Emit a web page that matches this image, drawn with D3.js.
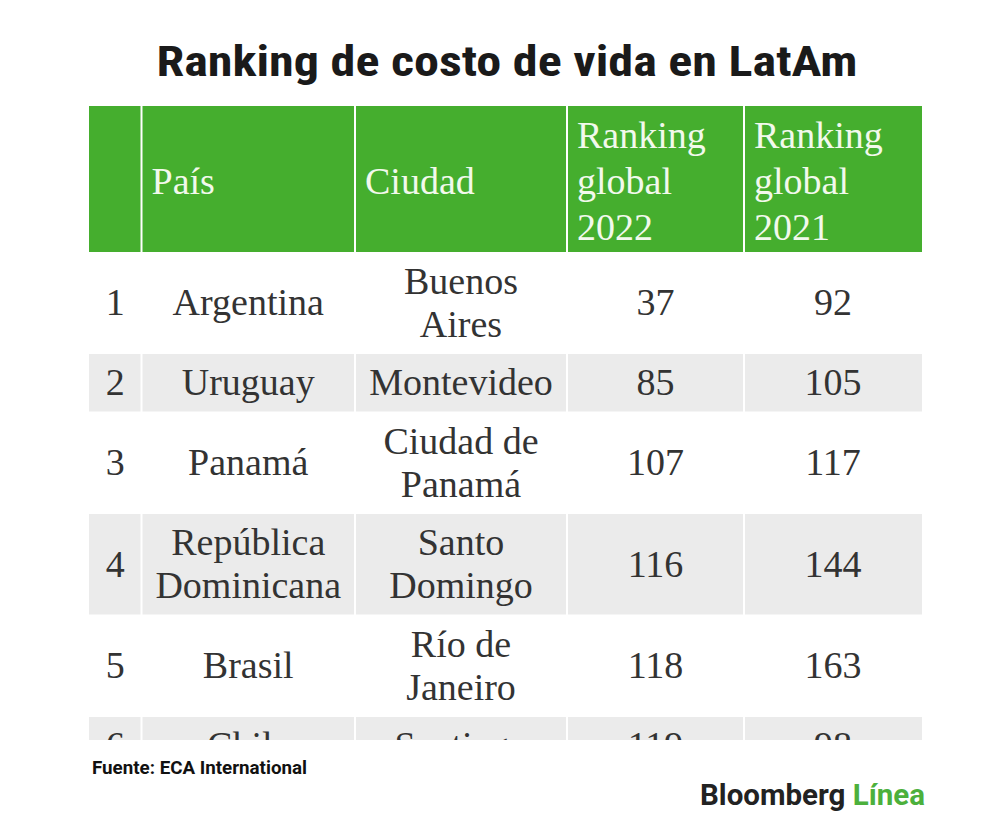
<!DOCTYPE html>
<html>
<head>
<meta charset="utf-8">
<script src="https://cdn.jsdelivr.net/npm/d3@7"></script>
<style>
  body { margin: 0; background: #fff; }
  svg { display: block; }
</style>
</head>
<body>
<div id="chart"></div>
<script>
// table content
const headers = ["", "País", "Ciudad", "Ranking global 2022", "Ranking global 2021"];
const ranks = [1, 2, 3, 4, 5, 6];
const countries = ["Argentina", "Uruguay", "Panamá", "República Dominicana", "Brasil", "Chile"];
const cities = ["Buenos Aires", "Montevideo", "Ciudad de Panamá", "Santo Domingo", "Río de Janeiro", "Santiago"];
const rank2022 = [37, 85, 107, 116, 118, 119];
const rank2021 = [92, 105, 117, 144, 163, 98];

const width = 1000;
const height = 817;

// layout
const colEdges = [89, 141.5, 355, 567, 744, 922];
const tableTop = 106;
const headerH = 146;
const clipBottom = 740;
const fontSize = 38;
const headLine = 46;
const bodyLine = 43;
const green = "#45ae2e";
const gray = "#ebebeb";

let svg = d3.select("#chart").append("svg")
    .attr("width", width)
    .attr("height", height);

// title
svg.append("text")
    .attr("x", 507)
    .attr("y", 76)
    .attr("text-anchor", "middle")
    .attr("font-family", "'Liberation Sans Narrow', 'Roboto Condensed', Roboto, sans-serif")
    .attr("font-weight", 700)
    .attr("font-size", 43)
    .attr("fill", "#1a1a1a")
    .attr("textLength", 701)
    .attr("lengthAdjust", "spacingAndGlyphs")
    .text("Ranking de costo de vida en LatAm");

// measure helper for word wrapping
let measure = svg.append("text")
    .attr("font-family", "'Liberation Serif', 'Times New Roman', serif")
    .attr("font-size", fontSize)
    .attr("visibility", "hidden");

function wrap(str, maxW) {
    let words = String(str).split(" ");
    let lines = [];
    let cur = "";
    words.forEach(function(w) {
        let test = cur ? cur + " " + w : w;
        measure.text(test);
        if (cur && measure.node().getComputedTextLength() > maxW) {
            lines.push(cur);
            cur = w;
        } else {
            cur = test;
        }
    });
    lines.push(cur);
    return lines;
}

let colX = d3.scaleOrdinal()
    .domain(d3.range(5))
    .range(colEdges.slice(0, 5));
let colW = i => colEdges[i + 1] - colEdges[i];

// build rows
let rows = ranks.map(function(r, i) {
    let cells = [r, countries[i], cities[i], rank2022[i], rank2021[i]].map(function(v, c) {
        return wrap(v, colW(c) - 10);
    });
    return {cells: cells, lines: d3.max(cells, d => d.length)};
});

let y = tableTop + headerH;
rows.forEach(function(d) {
    d.y = y;
    d.h = d.lines * bodyLine + 15.5;
    y += d.h;
});

svg.append("clipPath")
    .attr("id", "tableClip")
    .append("rect")
    .attr("x", 0)
    .attr("y", 0)
    .attr("width", width)
    .attr("height", clipBottom);

let table = svg.append("g").attr("clip-path", "url(#tableClip)");

// header
let head = table.append("g").attr("class", "header");
head.selectAll("rect")
    .data(headers)
    .join("rect")
    .attr("x", (d, i) => colX(i) + (i ? 1 : 0))
    .attr("y", tableTop)
    .attr("width", (d, i) => colW(i) - (i ? 1 : 0) - (i < 4 ? 1 : 0))
    .attr("height", headerH)
    .attr("fill", green);

head.selectAll("text")
    .data(headers)
    .join("text")
    .attr("font-family", "'Liberation Serif', 'Times New Roman', serif")
    .attr("font-size", fontSize)
    .attr("fill", "#f2f9ec")
    .each(function(d, i) {
        let lines = d ? wrap(d, colW(i) - 30) : [];
        let cy = tableTop + headerH / 2 + 2;
        d3.select(this).selectAll("tspan")
            .data(lines)
            .join("tspan")
            .attr("x", colX(i) + 10)
            .attr("y", (l, k) => cy + (k - (lines.length - 1) / 2) * headLine + 12.5)
            .text(l => l);
    });

// body rows
let body = table.selectAll("g.row")
    .data(rows)
    .join("g")
    .attr("class", "row");

body.selectAll("rect")
    .data((d, ri) => d.cells.map((c, i) => ({row: d, ri: ri, i: i})))
    .join("rect")
    .attr("x", d => colX(d.i) + (d.i ? 1 : 0))
    .attr("y", d => d.row.y + 0.5)
    .attr("width", d => colW(d.i) - (d.i ? 1 : 0) - (d.i < 4 ? 1 : 0))
    .attr("height", d => d.row.h - 1)
    .attr("fill", d => d.ri % 2 ? gray : "#ffffff");

body.selectAll("text")
    .data(d => d.cells.map((c, i) => ({row: d, lines: c, i: i})))
    .join("text")
    .attr("font-family", "'Liberation Serif', 'Times New Roman', serif")
    .attr("font-size", fontSize)
    .attr("fill", "#333333")
    .attr("text-anchor", "middle")
    .each(function(d) {
        let cx = colX(d.i) + colW(d.i) / 2;
        let cy = d.row.y + d.row.h / 2;
        d3.select(this).selectAll("tspan")
            .data(d.lines)
            .join("tspan")
            .attr("x", cx)
            .attr("y", (l, k) => cy + (k - (d.lines.length - 1) / 2) * bodyLine + 12.5)
            .text(l => l);
    });

measure.remove();

// source
svg.append("text")
    .attr("x", 92)
    .attr("y", 774)
    .attr("font-family", "'Liberation Sans Narrow', Roboto, sans-serif")
    .attr("font-weight", 700)
    .attr("font-size", 19)
    .attr("fill", "#111")
    .attr("textLength", 215)
    .attr("lengthAdjust", "spacingAndGlyphs")
    .text("Fuente: ECA International");

// logo
let logo = svg.append("text")
    .attr("x", 700)
    .attr("y", 805)
    .attr("font-family", "'Liberation Sans Narrow', Roboto, sans-serif")
    .attr("font-weight", 700)
    .attr("font-size", 30)
    .attr("textLength", 225)
    .attr("lengthAdjust", "spacingAndGlyphs");
logo.append("tspan").attr("fill", "#222").text("Bloomberg ");
logo.append("tspan").attr("fill", "#4cb03c").text("Línea");
</script>
</body>
</html>
